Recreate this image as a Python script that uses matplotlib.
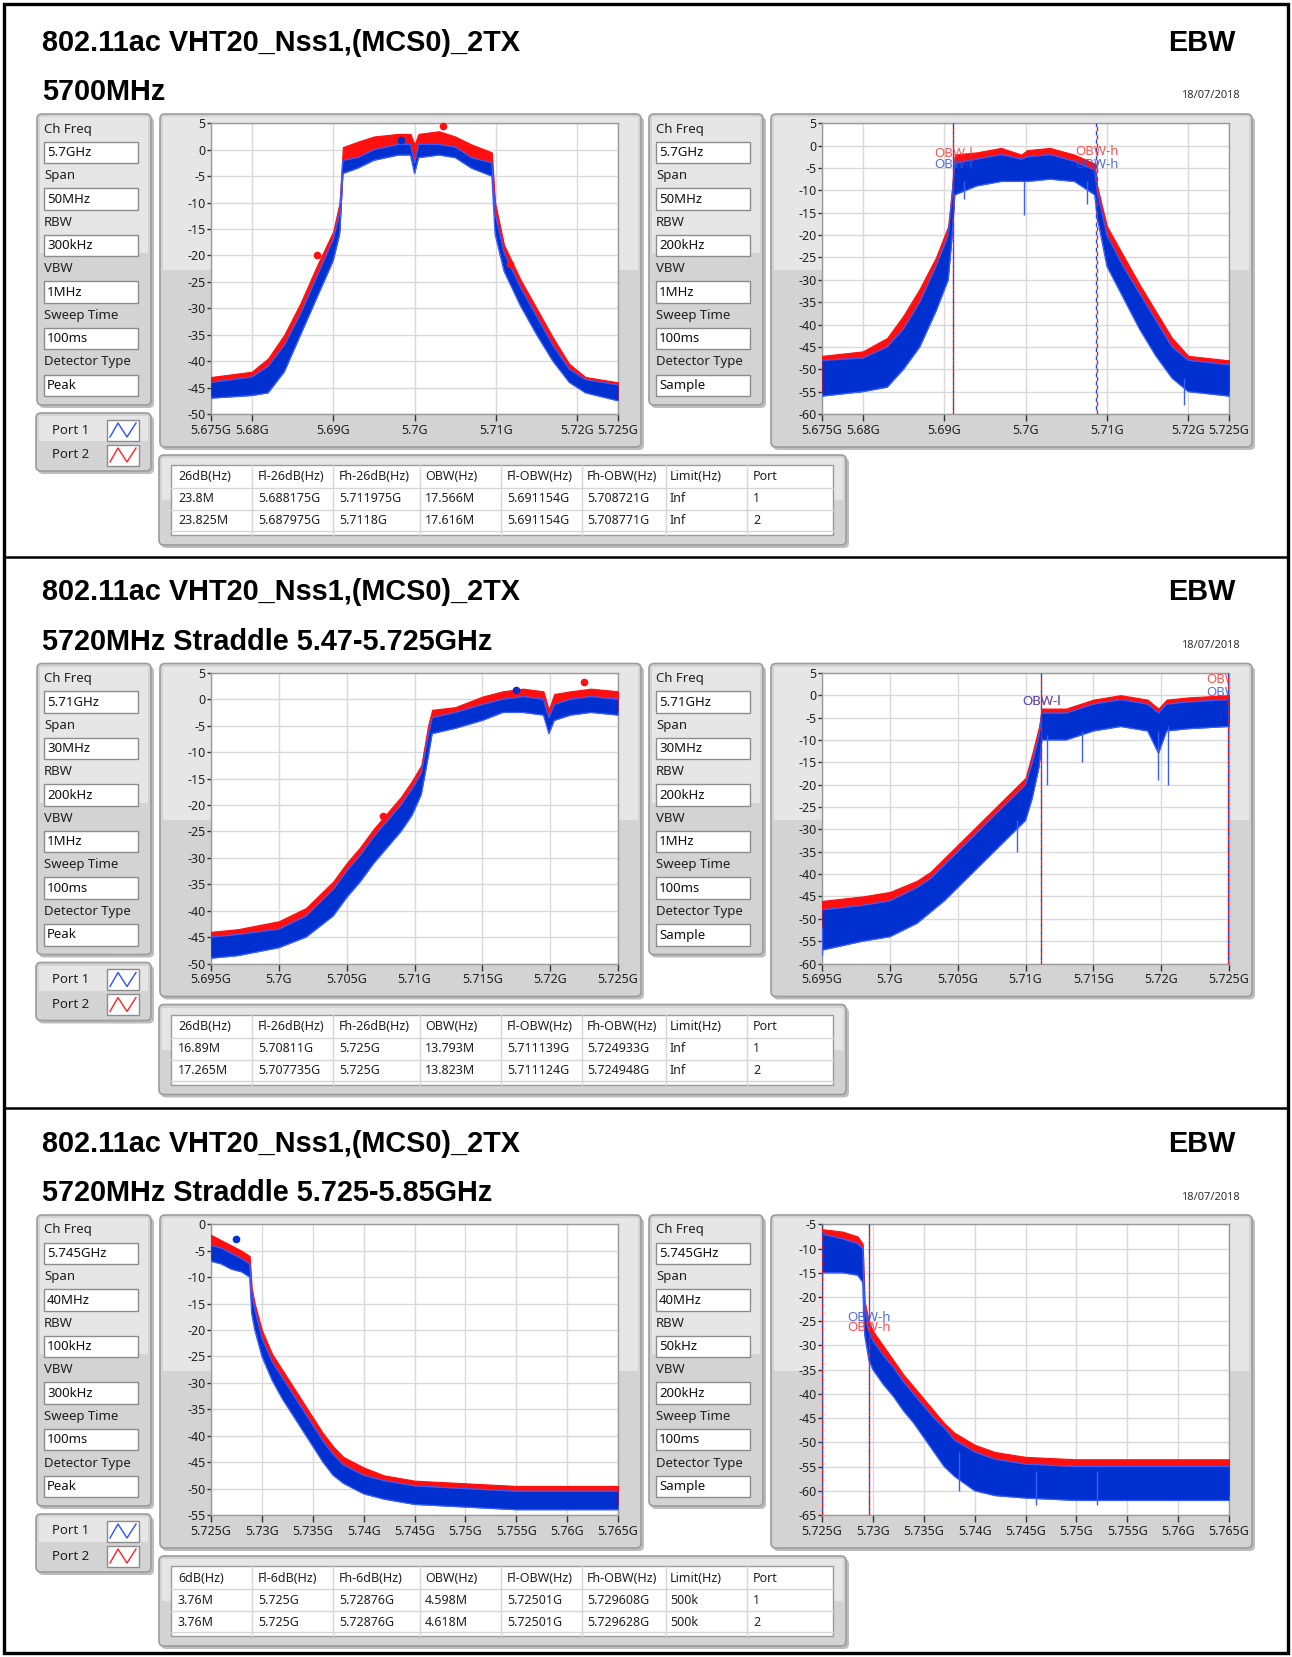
import matplotlib
matplotlib.use("Agg")
import matplotlib.pyplot as plt
from matplotlib.patches import FancyBboxPatch, Rectangle

plt.rcParams['font.family'] = ['Noto Sans', 'DejaVu Sans']
plt.rcParams['axes.unicode_minus'] = False

W, H = 1292, 1657
PANEL_DY = [0, 549.5, 1101]

TITLE_1 = "802.11ac VHT20_Nss1,(MCS0)_2TX"
TITLE_2 = ["5700MHz", "5720MHz Straddle 5.47-5.725GHz", "5720MHz Straddle 5.725-5.85GHz"]
TAG = "EBW"
DATE = "18/07/2018"
TITLE_FONT = ["Liberation Sans", "DejaVu Sans"]

SETTING_NAMES = ["Ch Freq", "Span", "RBW", "VBW", "Sweep Time", "Detector Type"]
SET_1L = ["5.7GHz", "50MHz", "300kHz", "1MHz", "100ms", "Peak"]
SET_1R = ["5.7GHz", "50MHz", "200kHz", "1MHz", "100ms", "Sample"]
SET_2L = ["5.71GHz", "30MHz", "200kHz", "1MHz", "100ms", "Peak"]
SET_2R = ["5.71GHz", "30MHz", "200kHz", "1MHz", "100ms", "Sample"]
SET_3L = ["5.745GHz", "40MHz", "100kHz", "300kHz", "100ms", "Peak"]
SET_3R = ["5.745GHz", "40MHz", "50kHz", "200kHz", "100ms", "Sample"]

HEAD_26 = ["26dB(Hz)", "Fl-26dB(Hz)", "Fh-26dB(Hz)", "OBW(Hz)", "Fl-OBW(Hz)", "Fh-OBW(Hz)", "Limit(Hz)", "Port"]
HEAD_6 = ["6dB(Hz)", "Fl-6dB(Hz)", "Fh-6dB(Hz)", "OBW(Hz)", "Fl-OBW(Hz)", "Fh-OBW(Hz)", "Limit(Hz)", "Port"]
ROWS_1 = [["23.8M", "5.688175G", "5.711975G", "17.566M", "5.691154G", "5.708721G", "Inf", "1"],
          ["23.825M", "5.687975G", "5.7118G", "17.616M", "5.691154G", "5.708771G", "Inf", "2"]]
ROWS_2 = [["16.89M", "5.70811G", "5.725G", "13.793M", "5.711139G", "5.724933G", "Inf", "1"],
          ["17.265M", "5.707735G", "5.725G", "13.823M", "5.711124G", "5.724948G", "Inf", "2"]]
ROWS_3 = [["3.76M", "5.725G", "5.72876G", "4.598M", "5.72501G", "5.729608G", "500k", "1"],
          ["3.76M", "5.725G", "5.72876G", "4.618M", "5.72501G", "5.729628G", "500k", "2"]]

# x ticks (GHz) and labels
XT_1 = [5.675, 5.68, 5.69, 5.70, 5.71, 5.72, 5.725]
XL_1 = ["5.675G", "5.68G", "5.69G", "5.7G", "5.71G", "5.72G", "5.725G"]
XT_2 = [5.695, 5.70, 5.705, 5.71, 5.715, 5.72, 5.725]
XL_2 = ["5.695G", "5.7G", "5.705G", "5.71G", "5.715G", "5.72G", "5.725G"]
XT_3 = [5.725, 5.73, 5.735, 5.74, 5.745, 5.75, 5.755, 5.76, 5.765]
XL_3 = ["5.725G", "5.73G", "5.735G", "5.74G", "5.745G", "5.75G", "5.755G", "5.76G", "5.765G"]

# ---- traces: envelope of each noisy trace (dB), port 1 blue, port 2 red ----
P1L_F = [5.675, 5.680, 5.682, 5.684, 5.686, 5.688, 5.690, 5.6908, 5.6912, 5.693, 5.695, 5.698, 5.6995,
         5.7000, 5.7005, 5.703, 5.705, 5.707, 5.7095, 5.7099, 5.711, 5.713, 5.715, 5.717, 5.719, 5.721, 5.725]
P1L_B_LO = [-47, -46.5, -46, -42, -35, -28, -21, -16, -4.5, -3.5, -2, -1, -1, -4.5, -1.5, -1, -1.5, -3.5,
            -5, -16, -23, -29.5, -35, -40, -44, -46, -47.5]
P1L_B_HI = [-44, -43, -41, -37, -31, -24, -17, -12, -2, -1.5, 0, 1, 1, -2.5, 1, 1, 0.5, -1.5, -2.5, -12,
            -19.5, -26, -31.5, -37, -41.5, -43.5, -44.5]
P1L_R_LO = [-46.5, -45.5, -45, -41, -34, -27, -20, -15, -3, -2, -0.5, 0, 0, -3, 0, 0, -0.5, -2, -4, -15,
            -22, -28.5, -34, -39, -43, -45, -47]
P1L_R_HI = [-43, -42, -39.5, -35, -29, -22, -15.5, -10, 0.5, 1.5, 2.5, 3, 3, 1, 3, 3.5, 2.5, 1, -0.5,
            -10, -18, -24.5, -30, -35.5, -40.5, -43, -44]
P1L_MK_B = ([5.6983], [1.9])
P1L_MK_R = ([5.7035, 5.688, 5.7117], [4.4, -20, -21.6])

P1R_F = [5.675, 5.680, 5.683, 5.685, 5.687, 5.689, 5.6905, 5.6910, 5.6913, 5.694, 5.697, 5.6995, 5.7002,
         5.703, 5.706, 5.7085, 5.7088, 5.710, 5.712, 5.714, 5.716, 5.718, 5.720, 5.725]
P1R_B_LO = [-56, -55, -54, -50, -45, -37, -30, -20, -11, -9, -8, -8, -8, -7.5, -8, -11, -16, -27, -34,
            -41, -47, -52, -55, -56]
P1R_B_HI = [-48, -47.5, -45, -41, -35, -27, -20, -11, -4, -3, -2, -3, -2.5, -2, -3.5, -5.5, -10, -20,
            -27, -33, -39, -45, -48, -49]
P1R_R_LO = [-55, -54, -52.5, -48, -43, -35, -28, -18, -10, -8, -7, -7, -7, -6.5, -7, -10, -15, -25,
            -32, -39, -45, -50, -54, -55]
P1R_R_HI = [-47, -46, -43, -38, -32, -25, -18, -9, -2, -1.5, -0.5, -2, -1, -0.5, -2, -4, -9, -18,
            -24.5, -31, -37, -43, -47, -48]
P1R_DIP_F = [5.6925, 5.6998, 5.7075, 5.7195]
P1R_DIP_LO = [-12, -15.5, -13, -58]
P1R_DIP_HI = [-8, -8, -8, -52]
P1R_OBW_B = [5.691154, 5.708721]
P1R_OBW_R = [5.691154, 5.708771]
P1R_LBL = [("OBW-l", 5.6912, -1.7, "r"), ("OBW-l", 5.6912, -4.3, "b"),
           ("OBW-h", 5.7088, -1.3, "r"), ("OBW-h", 5.7088, -4.3, "b")]

P2L_F = [5.695, 5.697, 5.700, 5.702, 5.704, 5.705, 5.706, 5.707, 5.708, 5.709, 5.7098, 5.7105, 5.7110,
         5.7113, 5.713, 5.715, 5.7165, 5.718, 5.7195, 5.7199, 5.7203, 5.7215, 5.723, 5.725]
P2L_B_LO = [-49, -48.5, -47, -45, -41, -37.5, -34.5, -31, -28, -25, -22, -18, -11, -6.5, -5.5, -4,
            -2.5, -2.5, -3, -6.5, -4, -3, -2.5, -3]
P2L_B_HI = [-45, -44.5, -43.5, -41, -36, -32.5, -29.5, -26, -23, -20, -17, -14, -7, -3.5, -2.5, -1,
            0, 0.5, 0, -3.5, -1, 0, 0.5, 0]
P2L_R_LO = [-48.5, -48, -46.5, -44, -40, -36.5, -33.5, -30, -27, -24, -21, -17, -10, -5.5, -4.5, -3,
            -1.5, -1.5, -2, -5.5, -3, -2, -1.5, -2]
P2L_R_HI = [-44, -43.5, -42, -39.5, -34.5, -31, -28, -24.5, -21.5, -18.5, -15.5, -12.5, -5, -2, -1.5,
            0.5, 1.5, 2, 1.5, -2, 1, 1.5, 2, 1.5]
P2L_MK_B = ([5.7175, 5.7081], [1.8, -24.1])
P2L_MK_R = ([5.7077, 5.7225], [-22, 3.3])

P2R_F = [5.695, 5.698, 5.700, 5.702, 5.703, 5.704, 5.705, 5.706, 5.707, 5.708, 5.709, 5.710, 5.7105,
         5.7110, 5.7112, 5.713, 5.715, 5.717, 5.719, 5.7198, 5.7204, 5.722, 5.725]
P2R_B_LO = [-57, -55, -54, -51, -48.5, -46, -43, -40, -37, -34, -31, -28, -23, -16, -10, -10, -8, -7,
            -8, -13, -8, -7.5, -7]
P2R_B_HI = [-48, -47, -46, -43, -41, -38, -35, -32, -29, -26, -23, -20, -15, -9, -4, -4, -2, -1, -2,
            -4, -2, -1.5, -1]
P2R_R_LO = [-56, -54, -53, -50, -47.5, -45, -42, -39, -36, -33, -30, -27, -22, -15, -9, -9, -7, -6, -7,
            -10, -7, -6.5, -6]
P2R_R_HI = [-46, -45, -44, -41.5, -39.5, -36.5, -33.5, -30.5, -27.5, -24.5, -21.5, -18.5, -13, -7, -3,
            -3, -1, 0, -1, -3, -1, -0.5, 0]
P2R_DIP_F = [5.7094, 5.7116, 5.7142, 5.7198, 5.7205, 5.6950]
P2R_DIP_LO = [-35, -20, -15, -19, -20, -58]
P2R_DIP_HI = [-28, -9, -8, -8, -7, -52]
P2R_OBW_B = [5.711139, 5.724933]
P2R_OBW_R = [5.711124, 5.724948]
P2R_LBL = [("OBW-l", 5.7112, -1.4, "r"), ("OBW-l", 5.7112, -1.4, "b"),
           ("OBW-h", 5.7249, 3.6, "r"), ("OBW-h", 5.7249, 0.5, "b")]

P3L_F = [5.725, 5.726, 5.727, 5.728, 5.7288, 5.7290, 5.7293, 5.730, 5.731, 5.732, 5.733, 5.734, 5.735,
         5.736, 5.737, 5.738, 5.740, 5.742, 5.745, 5.750, 5.755, 5.760, 5.765]
P3L_B_LO = [-7, -7.5, -8.5, -9, -10, -17, -20, -25, -29.5, -33, -36, -39, -42, -45, -47.5, -49, -51,
            -52, -53, -53.5, -54, -54, -54]
P3L_B_HI = [-4, -4.5, -5.5, -6.5, -7.5, -13, -16, -21.5, -26, -29, -32, -35, -38, -41, -43.5, -45.5,
            -47.5, -48.5, -49.5, -50, -50.5, -50.5, -50.5]
P3L_R_LO = [-6.5, -7, -8, -8.5, -9, -16, -19, -24, -28.5, -32, -35, -38, -41, -44, -46.5, -48, -50,
            -51, -52, -52.5, -53, -53, -53]
P3L_R_HI = [-2, -3, -4, -5, -6, -12, -15, -20, -24.5, -27.5, -30.5, -33.5, -36.5, -39.5, -42, -44, -46,
            -47.5, -48.5, -49, -49.5, -49.5, -49.5]
P3L_MK_B = ([5.7275], [-2.7])
P3L_MK_R = ([], [])

P3R_F = [5.725, 5.727, 5.7285, 5.7290, 5.7292, 5.7296, 5.730, 5.731, 5.732, 5.733, 5.734, 5.735, 5.736,
         5.737, 5.738, 5.740, 5.742, 5.745, 5.750, 5.755, 5.760, 5.765]
P3R_B_LO = [-15, -15, -15.5, -17, -28, -33, -35, -38, -40.5, -43.5, -46, -49, -52, -55, -57, -60, -61,
            -61.5, -62, -62, -62, -62]
P3R_B_HI = [-7, -8, -9, -10, -22, -27, -29, -32, -34.5, -37.5, -40, -42.5, -45, -47, -49.5, -52, -53.5,
            -54.5, -55, -55, -55, -55]
P3R_R_LO = [-14, -14, -14.5, -16, -27, -32, -34, -37, -39.5, -42.5, -45, -48, -51, -54, -56, -59, -60,
            -60.5, -61, -61, -61, -61]
P3R_R_HI = [-6, -6.5, -7.5, -9, -21, -25, -27, -30, -33, -36, -38.5, -41, -43.5, -46, -48, -50.5, -52,
            -53, -53.5, -53.5, -53.5, -53.5]
P3R_DIP_F = [5.7290, 5.7385, 5.7460, 5.7520]
P3R_DIP_LO = [-24, -60, -63, -63]
P3R_DIP_HI = [-12, -52, -56, -56]
P3R_OBW_B = [5.72501, 5.729608]
P3R_OBW_R = [5.72501, 5.729628]
P3R_LBL = [("OBW-h", 5.7296, -24.3, "b"), ("OBW-h", 5.7296, -26.4, "r")]

BLUE, BLUE_EDGE = "#0030d0", "#3a5cff"
RED = "#ff1010"
LBL_COL = {"r": "#ff3333", "b": "#3355dd"}

fig = plt.figure(figsize=(W / 100, H / 100), dpi=100)
bg = fig.add_axes([0, 0, 1, 1])
bg.set_xlim(0, W)
bg.set_ylim(H, 0)
bg.axis("off")


def rbox(x0, y0, x1, y1, fc, ec="none", r=4, lw=1.0, z=1):
    bg.add_patch(FancyBboxPatch((x0, y0), x1 - x0, y1 - y0, boxstyle=f"round,pad=0,rounding_size={r}",
                                fc=fc, ec=ec, lw=lw, zorder=z))


def frame(x0, y0, x1, y1, split):
    rbox(x0 + 2, y0 + 3, x1 + 3, y1 + 3, "#bdbdbd", r=5, z=1)
    rbox(x0, y0, x1, y1, "#d3d3d3", "#9c9c9c", r=5, lw=1.2, z=2)
    bg.add_patch(Rectangle((x0 + 3, y0 + 3), x1 - x0 - 6, split - y0 - 3, fc="#e6e6e6", ec="none", zorder=2))


def settings(x0, oy, values):
    frame(x0, 114 + oy, x0 + 114, 405 + oy, 253 + oy)
    for k, (name, val) in enumerate(zip(SETTING_NAMES, values)):
        yl = 129 + oy + 46.6 * k
        bg.text(x0 + 7, yl, name, fontsize=9.5, color="#202020", va="center", ha="left", zorder=5)
        bg.add_patch(Rectangle((x0 + 7, yl + 12.5), 94, 21.5, fc="white", ec="#8c8c8c", lw=1, zorder=4))
        bg.text(x0 + 10, yl + 23.5, val, fontsize=9.5, color="#101010", va="center", ha="left", zorder=5)


def legend_box(oy):
    frame(36, 413 + oy, 151, 471 + oy, 441 + oy)
    for k, (lab, col) in enumerate([("Port 1", "#2850ff"), ("Port 2", "#ff2020")]):
        yc = 430 + oy + 25 * k
        bg.text(52, yc, lab, fontsize=9.5, color="#202020", va="center", zorder=5)
        bg.add_patch(Rectangle((107, yc - 10.5), 32, 21, fc="white", ec="#8c8c8c", lw=1, zorder=4))
        bg.plot([110, 118, 127, 136], [yc + 7, yc - 7, yc + 7, yc - 7], color=col, lw=1, zorder=5)


def table(oy, head, rows):
    frame(159, 455 + oy, 846, 545 + oy, 500 + oy)
    bg.add_patch(Rectangle((171, 465 + oy), 662, 70, fc="white", ec="#9a9a9a", lw=1, zorder=4))
    for yl in [488, 510, 531]:
        bg.plot([171, 833], [yl + oy, yl + oy], color="#d6d6d6", lw=1, zorder=5)
    for xl in [252, 333, 420, 501, 582, 665.5, 746.5]:
        bg.plot([xl, xl], [465 + oy, 535 + oy], color="#d6d6d6", lw=1, zorder=5)
    xs = [178, 258, 339, 425, 507, 587, 670, 753]
    for r, line in enumerate([head] + rows):
        for x, txt in zip(xs, line):
            bg.text(x, 477 + oy + 22 * r, txt, fontsize=9, color="#202020", va="center", zorder=6)


def spectrum(x0, oy, ylim, xt, xl, f, b_lo, b_hi, r_lo, r_hi, mk_b=None, mk_r=None,
             dips=None, obw=None, labels=None):
    frame(x0 - 51, 114 + oy, x0 + 430, 447 + oy, 270 + oy)
    top, bot = 123.3 + oy, 414 + oy
    ax = fig.add_axes([x0 / W, 1 - bot / H, 407 / W, (bot - top) / H])
    ax.set_zorder(3)
    ax.set_facecolor("white")
    ax.set_xlim(xt[0], xt[-1])
    ax.set_ylim(*ylim)
    ax.set_xticks(xt)
    ax.set_xticklabels(xl)
    yt = list(range(int(ylim[0]), int(ylim[1]) + 1, 5))
    ax.set_yticks(yt)
    ax.set_yticklabels([str(v) for v in yt])
    ax.grid(True, color="#d9d9d9", lw=1)
    ax.set_axisbelow(True)
    for s in ax.spines.values():
        s.set_color("#9a9a9a")
        s.set_linewidth(1)
    ax.tick_params(axis="y", direction="out", length=3, width=1, color="#333333",
                   labelsize=9, pad=1, labelcolor="#202020")
    ax.tick_params(axis="x", direction="out", length=5, width=1, color="#333333",
                   labelsize=9, pad=2, labelcolor="#202020")

    ax.fill_between(f, r_lo, r_hi, color=RED, lw=0.8, ec=RED, zorder=3)
    ax.fill_between(f, b_lo, b_hi, color=BLUE, lw=0.0, zorder=4)
    ax.plot(f, b_hi, color=BLUE_EDGE, lw=0.9, zorder=4)
    ax.plot(f, b_lo, color=BLUE_EDGE, lw=0.9, zorder=4)
    if dips is not None:
        ax.vlines(dips[0], dips[1], dips[2], color=BLUE_EDGE, lw=1.0, zorder=4)
    if mk_r is not None and mk_r[0]:
        ax.plot(mk_r[0], mk_r[1], "o", color=RED, ms=4.5, zorder=6, clip_on=False)
    if mk_b is not None and mk_b[0]:
        ax.plot(mk_b[0], mk_b[1], "o", color=BLUE, ms=4.5, zorder=6, clip_on=False)
    if obw is not None:
        for fr in obw[1]:
            ax.axvline(fr, color=RED, lw=1, ls=(0, (3, 3)), zorder=7)
        for fb in obw[0]:
            ax.axvline(fb, color="#2244dd", lw=1, ls=(3, (3, 3)), zorder=7)
    if labels is not None:
        for txt, fx, yv, c in labels:
            ax.text(fx, yv, txt, color=LBL_COL[c], fontsize=9.5, ha="center", va="center",
                    alpha=0.85, zorder=8, clip_on=True)
    return ax


SPECS = [
    (XT_1, XL_1, (-50, 5), (P1L_F, P1L_B_LO, P1L_B_HI, P1L_R_LO, P1L_R_HI), P1L_MK_B, P1L_MK_R,
     (-60, 5), (P1R_F, P1R_B_LO, P1R_B_HI, P1R_R_LO, P1R_R_HI), (P1R_DIP_F, P1R_DIP_LO, P1R_DIP_HI),
     (P1R_OBW_B, P1R_OBW_R), P1R_LBL),
    (XT_2, XL_2, (-50, 5), (P2L_F, P2L_B_LO, P2L_B_HI, P2L_R_LO, P2L_R_HI), P2L_MK_B, P2L_MK_R,
     (-60, 5), (P2R_F, P2R_B_LO, P2R_B_HI, P2R_R_LO, P2R_R_HI), (P2R_DIP_F, P2R_DIP_LO, P2R_DIP_HI),
     (P2R_OBW_B, P2R_OBW_R), P2R_LBL),
    (XT_3, XL_3, (-55, 0), (P3L_F, P3L_B_LO, P3L_B_HI, P3L_R_LO, P3L_R_HI), P3L_MK_B, P3L_MK_R,
     (-65, -5), (P3R_F, P3R_B_LO, P3R_B_HI, P3R_R_LO, P3R_R_HI), (P3R_DIP_F, P3R_DIP_LO, P3R_DIP_HI),
     (P3R_OBW_B, P3R_OBW_R), P3R_LBL),
]
SETS = [(SET_1L, SET_1R), (SET_2L, SET_2R), (SET_3L, SET_3R)]
TABLES = [(HEAD_26, ROWS_1), (HEAD_26, ROWS_2), (HEAD_6, ROWS_3)]

# outer border and panel separators
bg.add_patch(Rectangle((4, 4), W - 8, H - 8, fc="none", ec="black", lw=2.4, zorder=10))
for ysep in [557, 1108]:
    bg.plot([4, W - 4], [ysep, ysep], color="black", lw=1.8, zorder=10)

for i, oy in enumerate(PANEL_DY):
    title_kw = dict(fontsize=20.8, fontweight="bold", family=TITLE_FONT, va="center", color="black")
    bg.text(42, 43 + oy, TITLE_1, ha="left", **title_kw)
    bg.text(42, 92 + oy, TITLE_2[i], ha="left", **title_kw)
    bg.text(1236, 43 + oy, TAG, ha="right", **title_kw)
    bg.text(1240, 96 + oy, DATE, fontsize=8, va="center", ha="right", color="#303030")

    settings(37, oy, SETS[i][0])
    settings(649, oy, SETS[i][1])
    legend_box(oy)
    table(oy, *TABLES[i])

    xt, xl, ylL, trL, mkb, mkr, ylR, trR, dips, obw, lbl = SPECS[i]
    spectrum(211, oy, ylL, xt, xl, *trL, mk_b=mkb, mk_r=mkr)
    spectrum(822, oy, ylR, xt, xl, *trR, dips=dips, obw=obw, labels=lbl)

fig.savefig("out.png", dpi=100, facecolor="white")
